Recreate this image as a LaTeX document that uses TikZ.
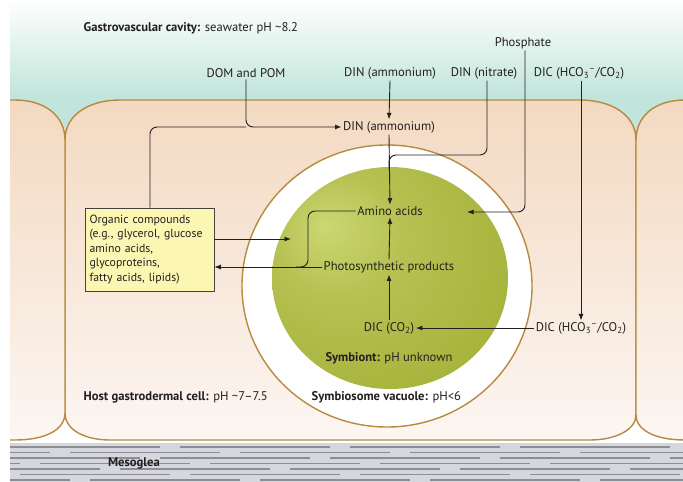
\documentclass[tikz,border=0pt]{standalone}
\usepackage{fontspec}
\setmainfont{PT Sans}
\usetikzlibrary{arrows.meta,calc}
\definecolor{txt}{HTML}{231F20}
\definecolor{teal1}{HTML}{C2E5DB}
\definecolor{cellT}{HTML}{F3D9C1}
\definecolor{cellB}{HTML}{FCF6F2}
\definecolor{cellE}{HTML}{B8893F}
\definecolor{boxF}{HTML}{FBF7B3}
\definecolor{g1}{HTML}{CBD772}
\definecolor{g2}{HTML}{A6B33B}
\definecolor{g3}{HTML}{7A881D}
\definecolor{mesoF}{HTML}{D6D7DE}
\definecolor{mesoL}{HTML}{8D8E94}
\pgfdeclareradialshading{symbshade}{\pgfpoint{-14bp}{12bp}}{color(0bp)=(g1); color(14bp)=(g2!60!g1); color(34bp)=(g2); color(50bp)=(g3); color(60bp)=(g3)}
\newcommand\hcoion{HCO\textsubscript{3}\textsuperscript{--}}
\begin{document}
\begin{tikzpicture}[x=1pt,y=-1pt,
  lab/.style={font=\fontsize{12.6}{14}\selectfont, text=txt, inner sep=1.5pt},
  conn/.style={draw=txt, line width=0.9pt},
  arr/.style={conn, -{Latex[length=6.5pt,width=5pt]}},
  cellline/.style={draw=cellE, line width=1.4pt},
]
\useasboundingbox (0,0) rectangle (683,482);
\begin{scope}
\clip (10,0) rectangle (683,482);
\shade[top color=white, bottom color=teal1] (0,0) rectangle (690,95);
\fill[teal1] (0,95) rectangle (690,170);
% central cell
\shadedraw[top color=cellT, bottom color=cellB, cellline]
 (65,140) .. controls (65,114) and (90,100) .. (120,100) -- (580,100)
 .. controls (610,100) and (636,114) .. (636,140) -- (636,415)
 .. controls (636,430) and (615,440) .. (590,440) -- (110,440)
 .. controls (85,440) and (65,430) .. (65,413) -- cycle;
% left cell
\shadedraw[top color=cellT, bottom color=cellB, cellline]
 (0,100) -- (15,100) .. controls (45,100) and (65,116) .. (65,140) -- (65,413)
 .. controls (65,430) and (45,440) .. (15,440) -- (0,440) -- cycle;
% right cell
\shadedraw[top color=cellT, bottom color=cellB, cellline]
 (700,100) -- (685,100) .. controls (655,100) and (636,116) .. (636,140) -- (636,415)
 .. controls (636,430) and (655,440) .. (685,440) -- (700,440) -- cycle;
% vacuole and symbiont
\draw[fill=white, cellline] (387,286) ellipse[x radius=145, y radius=141];
\shade[shading=symbshade] (390,278) ellipse[x radius=118, y radius=111];
% mesoglea
\fill[mesoF] (0,443) rectangle (690,482);
\foreach \y/\s in {447/0,452.5/60,458/150,463.5/30,469/110,474.5/10,480/80}{
  \foreach \k in {0,...,4}{
    \draw[mesoL, line width=1.2pt] ({\s+\k*170-160},\y) -- ({\s+\k*170-10},\y);
  }
}
\end{scope}

% labels
\node[lab, anchor=west] (gc) at (82,28) {\textbf{Gastrovascular cavity:} seawater pH \textasciitilde8.2};
\node[lab] (phos) at (523,43) {Phosphate};
\node[lab] (dom) at (246,73) {DOM and POM};
\node[lab] (dina) at (390,73) {DIN (ammonium)};
\node[lab] (dinn) at (484,73) {DIN (nitrate)};
\node[lab] (dic) at (579,73) {DIC (\hcoion/CO\textsubscript{2})};
\node[lab] (dinb) at (389,127) {DIN (ammonium)};
\node[lab] (amino) at (390,211) {Amino acids};
\node[lab] (photo) at (389,267) {Photosynthetic products};
\node[lab] (dicco) at (389,328) {DIC (CO\textsubscript{2})};
\node[lab] (dicb) at (581,328) {DIC (\hcoion/CO\textsubscript{2})};
\node[lab] (symb) at (389,358) {\textbf{Symbiont:} pH unknown};
\node[lab, anchor=west] (host) at (82,397) {\textbf{Host gastrodermal cell:} pH \textasciitilde7--7.5};
\node[lab, anchor=west] (vac) at (310,397) {\textbf{Symbiosome vacuole:} pH<6};
\node[lab] (meso) at (134,463) {\textbf{Mesoglea}};
\node[draw=txt!85, fill=boxF, line width=0.6pt, text width=120pt, inner xsep=4.5pt,
  inner ysep=4pt, minimum height=83pt, align=left,
  font=\fontsize{11.8}{14.5}\selectfont, text=txt] (box) at (149.5,249.5)
  {Organic compounds\\(e.g., glycerol, glucose\\amino acids,\\glycoproteins,\\fatty acids, lipids)};

% connector ends
\coordinate (phend) at (467,212);
\coordinate (boxin) at (291,239);
\coordinate (nj) at (389,170);

% connectors
\draw[arr, rounded corners=7pt] (dom.south) |- (dinb.west);
\draw[conn, rounded corners=7pt] (box.north -| 150,0) |- (dom.south |- dinb.west);
\draw[arr] (dina.south) -- (dinb.north);
\draw[arr] (dinb.south) -- (amino.north);
\draw[conn, rounded corners=7pt] (dinn.south -| 487,0) |- ($(nj)+(0,-15)$) -- (nj);
\draw[arr, rounded corners=7pt] (phos.south -| 525,0) |- (phend);
\draw[arr] (dic.south -| 581,0) -- (dicb.north);
\draw[arr] (dicb.west) -- (dicco.east);
\draw[arr] (dicco.north) -- (photo.south);
\draw[arr] (photo.north) -- (amino.south);
\draw[arr] (box.east |- boxin) -- (boxin);
\draw[arr] (photo.west) -- (box.east |- photo.west);
\draw[conn, rounded corners=7pt] (amino.west) -| ($(photo.west)+(-14,0)$) -- ($(photo.west)+(-26,0)$);
\end{tikzpicture}
\end{document}
